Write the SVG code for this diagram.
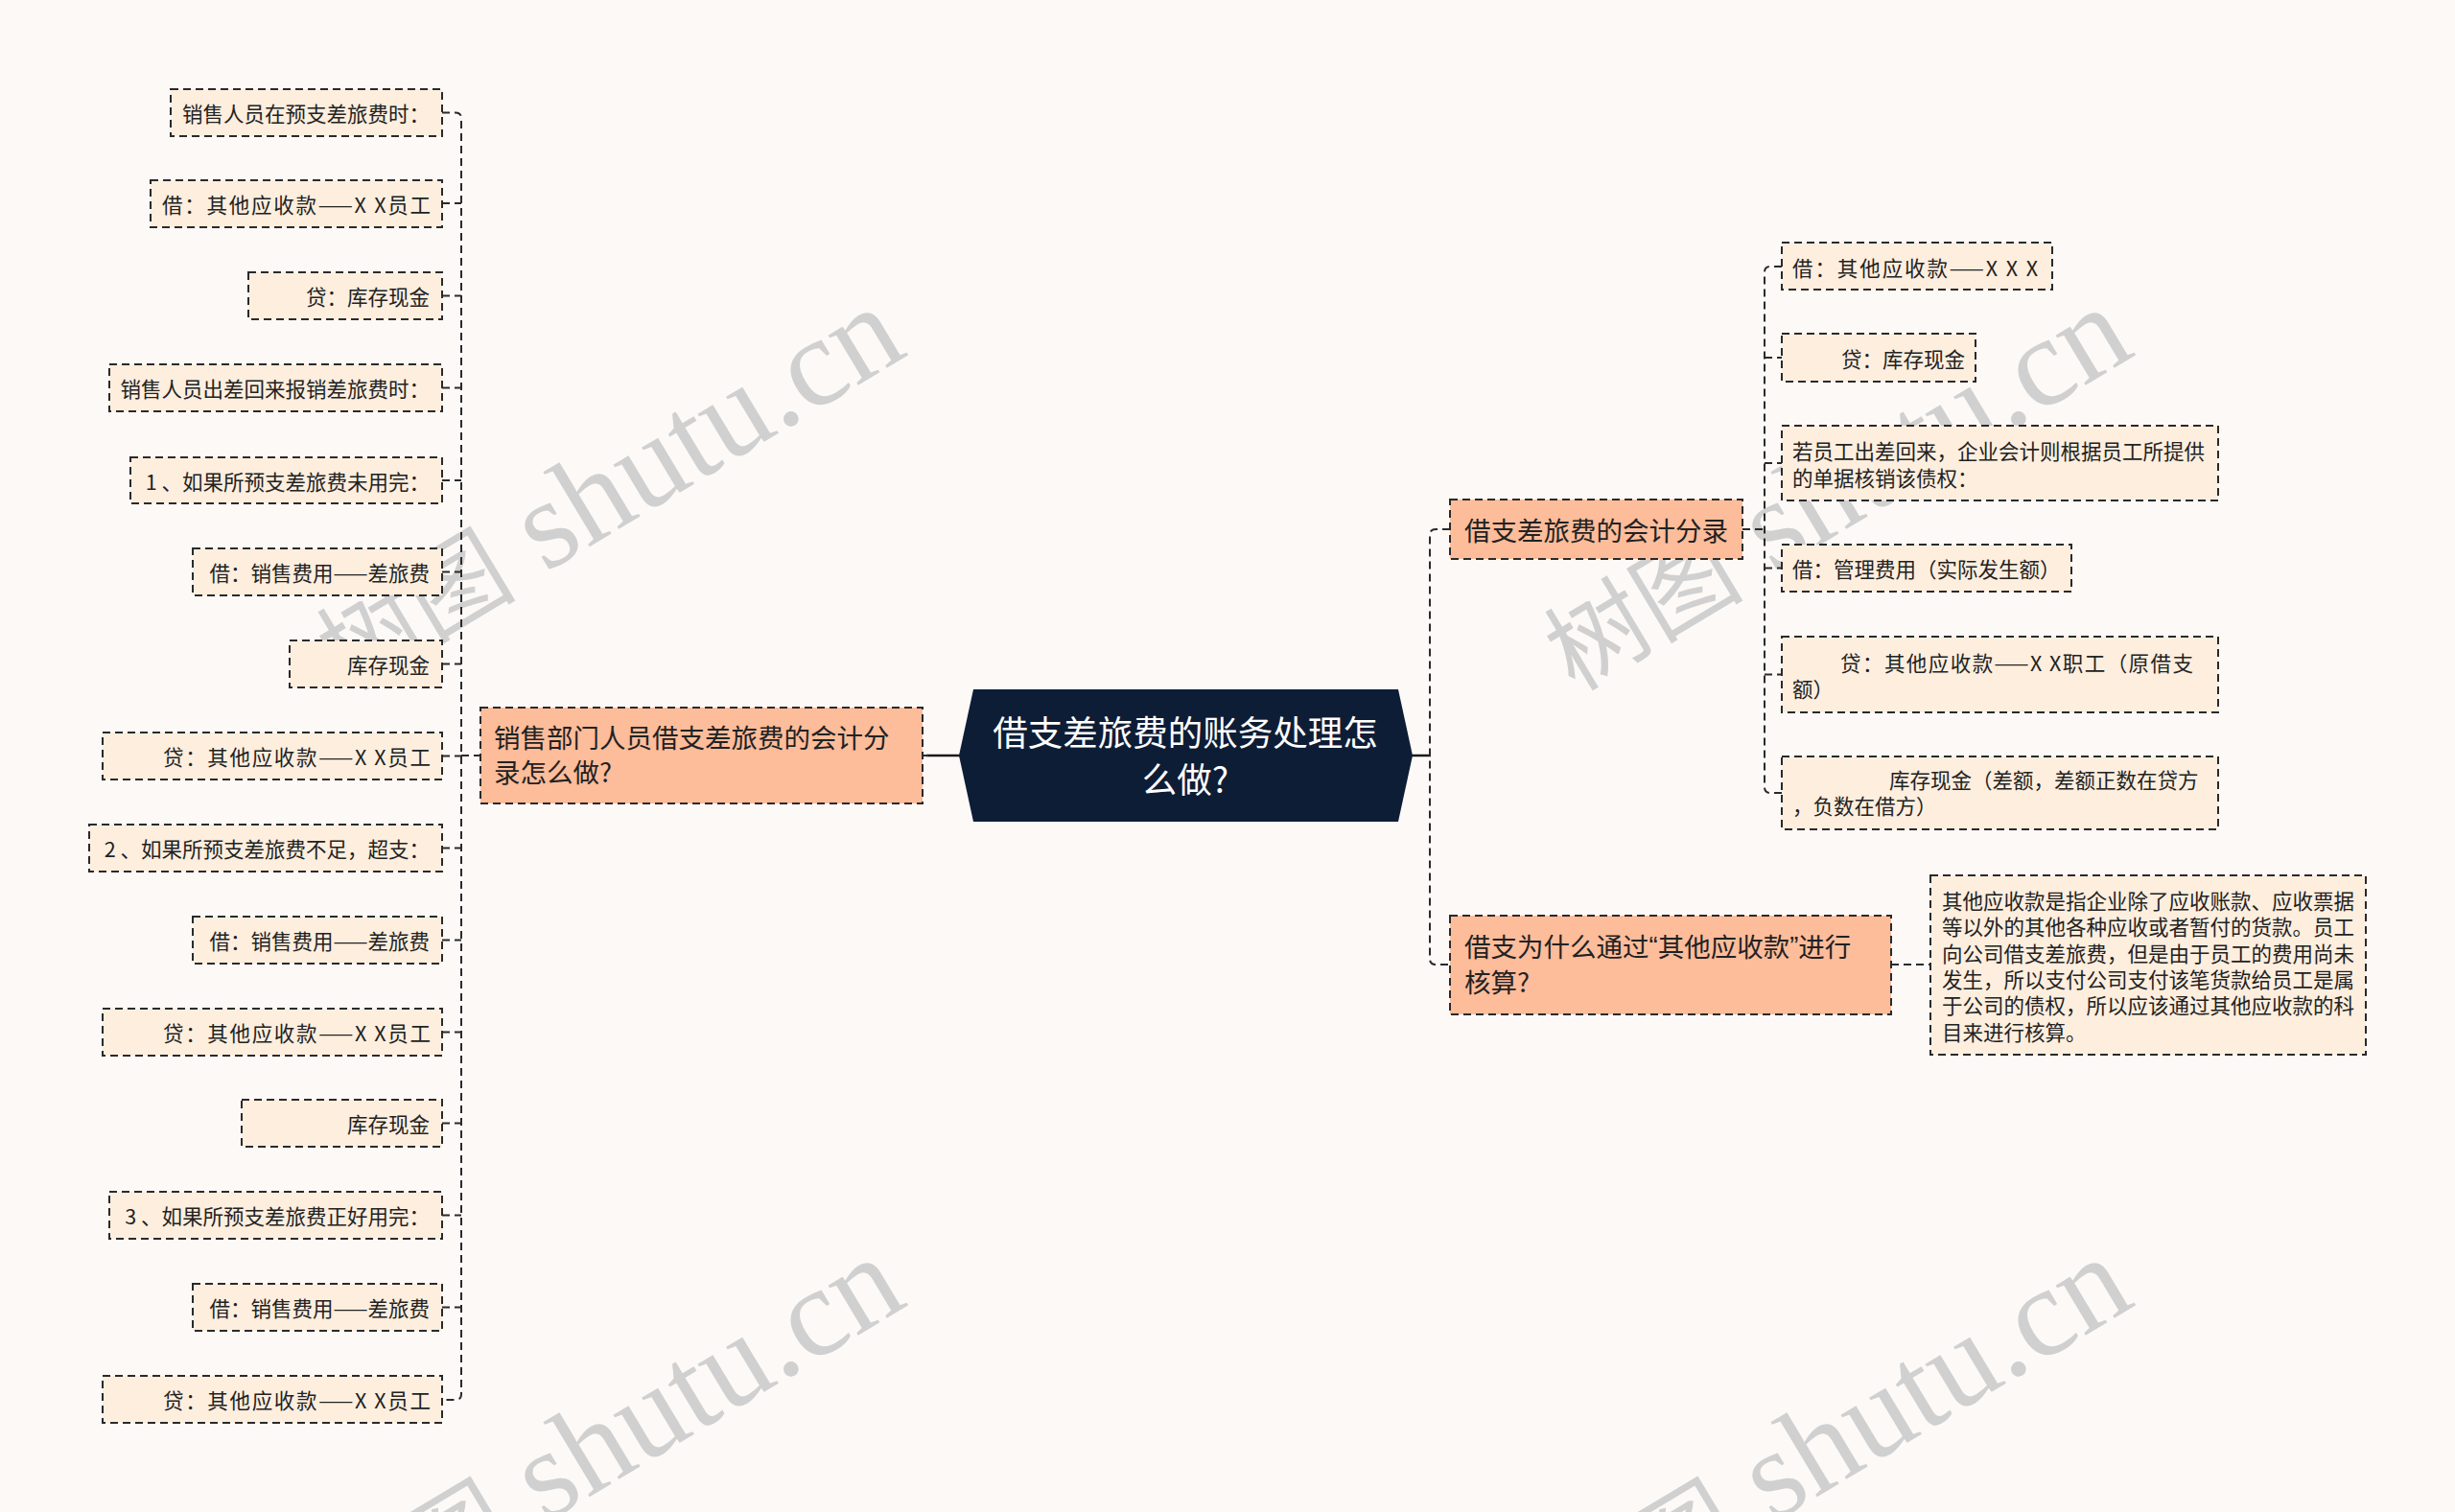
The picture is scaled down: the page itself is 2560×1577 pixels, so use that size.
<svg xmlns="http://www.w3.org/2000/svg" width="2560" height="1577" viewBox="0 0 2560 1577">
<style>
.bg{fill:#FCF9F7}
.leaf{fill:#FDEEDE;stroke:#2a2a2a;stroke-width:2;stroke-dasharray:8 5}
.lvl1{fill:#FDBC9A;stroke:#2a2a2a;stroke-width:2;stroke-dasharray:8 5}
.t{font-family:"Noto Sans CJK SC","Liberation Sans",sans-serif;fill:#222;dominant-baseline:central}
.ts{font-size:21.5px}
.tm{font-size:27.5px}
.tc{font-size:36.5px;fill:#ffffff}
.end{text-anchor:end}
.lat{font-family:"Liberation Sans",sans-serif}
.con{fill:none;stroke:#2a2a2a;stroke-width:2;stroke-dasharray:8 5}
.solid{fill:none;stroke:#1a1a1a;stroke-width:2.5}
.wm{font-family:"Liberation Serif","Noto Sans CJK SC",serif;fill:#d0d0d0}
.wc{font-family:"Noto Sans CJK SC",sans-serif;font-size:104px}
.wl{font-size:132px}
</style>
<rect class="bg" x="0" y="0" width="2560" height="1577"/>

<g id="watermarks">
<text class="wm" transform="translate(362,722) rotate(-31)"><tspan class="wc">树图</tspan><tspan class="wl"> shutu.cn</tspan></text>
<text class="wm" transform="translate(1642,722) rotate(-31)"><tspan class="wc">树图</tspan><tspan class="wl"> shutu.cn</tspan></text>
<text class="wm" transform="translate(362,1713) rotate(-31)"><tspan class="wc">树图</tspan><tspan class="wl"> shutu.cn</tspan></text>
<text class="wm" transform="translate(1642,1713) rotate(-31)"><tspan class="wc">树图</tspan><tspan class="wl"> shutu.cn</tspan></text>
</g>

<g id="connectors">
<path class="solid" d="M966 788 H1001"/>
<path class="con" d="M962 788 H968"/>
<path class="solid" d="M1472 788 H1492"/>
<path class="con" d="M481 788 H501"/>
<path class="con" d="M461 117.5 H475 Q481 117.5 481 123.5 V1454 Q481 1460 475 1460 H461"/>
<path class="con" d="M461 212 H481 M461 308.5 H481 M461 404.5 H481 M461 501 H481 M461 596.5 H481 M461 692.5 H481 M461 788.5 H481 M461 884.5 H481 M461 980.5 H481 M461 1076.5 H481 M461 1171.5 H481 M461 1267.5 H481 M461 1363.5 H481"/>
<path class="con" d="M1512 552 H1497 Q1491 552 1491 558 V1000 Q1491 1006 1497 1006 H1512"/>
<path class="con" d="M1817 552 H1840"/>
<path class="con" d="M1858 278 H1846 Q1840 278 1840 284 V821 Q1840 827 1846 827 H1858"/>
<path class="con" d="M1840 373 H1858 M1840 483 H1858 M1840 592.5 H1858 M1840 703.5 H1858"/>
<path class="con" d="M1972 1006 H2013"/>
</g>

<g id="center">
<polygon points="1015,719 1458,719 1473,788 1458,857 1015,857 1000,788" fill="#0E1D36"/>
<text class="t tc" x="1236" y="762" text-anchor="middle">借支差旅费的账务处理怎</text>
<text class="t tc" x="1236" y="811" text-anchor="middle">么做?</text>
</g>

<g id="left-main">
<rect class="lvl1" x="501" y="738" width="461" height="100"/>
<text class="t tm" x="515" y="768">销售部门人员借支差旅费的会计分</text>
<text class="t tm" x="515" y="804">录怎么做?</text>
</g>

<g id="l1"><rect class="leaf" x="178" y="93" width="283" height="49"/><text class="t ts end" x="448" y="117.5">销售人员在预支差旅费时：</text></g>
<g id="l2"><rect class="leaf" x="157" y="188" width="304" height="49"/><text class="t ts end" x="449" y="212" textLength="280" lengthAdjust="spacing">借：其他应收款——X X员工</text></g>
<g id="l3"><rect class="leaf" x="259" y="284" width="202" height="49"/><text class="t ts end" x="448" y="308.5">贷：库存现金</text></g>
<g id="l4"><rect class="leaf" x="114" y="380" width="347" height="49"/><text class="t ts end" x="448" y="404.5">销售人员出差回来报销差旅费时：</text></g>
<g id="l5"><rect class="leaf" x="136" y="477" width="325" height="48"/><text class="t ts end" x="448" y="501">1 、如果所预支差旅费未用完：</text></g>
<g id="l6"><rect class="leaf" x="201" y="572" width="260" height="49"/><text class="t ts end" x="448" y="596.5">借：销售费用——差旅费</text></g>
<g id="l7"><rect class="leaf" x="302" y="668" width="159" height="49"/><text class="t ts end" x="448" y="692.5">库存现金</text></g>
<g id="l8"><rect class="leaf" x="107" y="764" width="354" height="49"/><text class="t ts end" x="449" y="788.5" textLength="279" lengthAdjust="spacing">贷：其他应收款——X X员工</text></g>
<g id="l9"><rect class="leaf" x="93" y="860" width="368" height="49"/><text class="t ts end" x="448" y="884.5">2 、如果所预支差旅费不足，超支：</text></g>
<g id="l10"><rect class="leaf" x="201" y="956" width="260" height="49"/><text class="t ts end" x="448" y="980.5">借：销售费用——差旅费</text></g>
<g id="l11"><rect class="leaf" x="107" y="1052" width="354" height="49"/><text class="t ts end" x="449" y="1076.5" textLength="279" lengthAdjust="spacing">贷：其他应收款——X X员工</text></g>
<g id="l12"><rect class="leaf" x="252" y="1147" width="209" height="49"/><text class="t ts end" x="448" y="1171.5">库存现金</text></g>
<g id="l13"><rect class="leaf" x="114" y="1243" width="347" height="49"/><text class="t ts end" x="448" y="1267.5">3 、如果所预支差旅费正好用完：</text></g>
<g id="l14"><rect class="leaf" x="201" y="1339" width="260" height="49"/><text class="t ts end" x="448" y="1363.5">借：销售费用——差旅费</text></g>
<g id="l15"><rect class="leaf" x="107" y="1435" width="354" height="49"/><text class="t ts end" x="449" y="1459.5" textLength="279" lengthAdjust="spacing">贷：其他应收款——X X员工</text></g>

<g id="right-main-1">
<rect class="lvl1" x="1512" y="521" width="305" height="62"/>
<text class="t tm" x="1527" y="552">借支差旅费的会计分录</text>
</g>
<g id="r1"><rect class="leaf" x="1858" y="253" width="282" height="49"/><text class="t ts" x="1869" y="278" textLength="256" lengthAdjust="spacing">借：其他应收款——X X X</text></g>
<g id="r2"><rect class="leaf" x="1858" y="348" width="202" height="50"/><text class="t ts end" x="2049" y="373">贷：库存现金</text></g>
<g id="r3"><rect class="leaf" x="1858" y="444" width="455" height="78"/>
<text class="t ts" x="1869" y="469.5">若员工出差回来，企业会计则根据员工所提供</text>
<text class="t ts" x="1869" y="497">的单据核销该债权：</text></g>
<g id="r4"><rect class="leaf" x="1858" y="568" width="302" height="49"/><text class="t ts" x="1869" y="592.5">借：管理费用（实际发生额）</text></g>
<g id="r5"><rect class="leaf" x="1858" y="664" width="455" height="79"/>
<text class="t ts" x="1919" y="690" textLength="368" lengthAdjust="spacing">贷：其他应收款——X X职工（原借支</text>
<text class="t ts" x="1869" y="717.5">额）</text></g>
<g id="r6"><rect class="leaf" x="1858" y="789" width="455" height="76"/>
<text class="t ts" x="1970" y="812">库存现金（差额，差额正数在贷方</text>
<text class="t ts" x="1869" y="839.5">，负数在借方）</text></g>

<g id="right-main-2">
<rect class="lvl1" x="1512" y="955" width="460" height="103"/>
<text class="t tm" x="1527" y="986">借支为什么通过<tspan class="lat">“</tspan>其他应收款<tspan class="lat">”</tspan>进行</text>
<text class="t tm" x="1527" y="1023">核算?</text>
</g>
<g id="r7"><rect class="leaf" x="2013" y="913" width="454" height="187"/>
<text class="t ts" x="2025" y="938">其他应收款是指企业除了应收账款、应收票据</text>
<text class="t ts" x="2025" y="965.5">等以外的其他各种应收或者暂付的货款。员工</text>
<text class="t ts" x="2025" y="993">向公司借支差旅费，但是由于员工的费用尚未</text>
<text class="t ts" x="2025" y="1020">发生，所以支付公司支付该笔货款给员工是属</text>
<text class="t ts" x="2025" y="1047.5">于公司的债权，所以应该通过其他应收款的科</text>
<text class="t ts" x="2025" y="1075">目来进行核算。</text></g>
</svg>
